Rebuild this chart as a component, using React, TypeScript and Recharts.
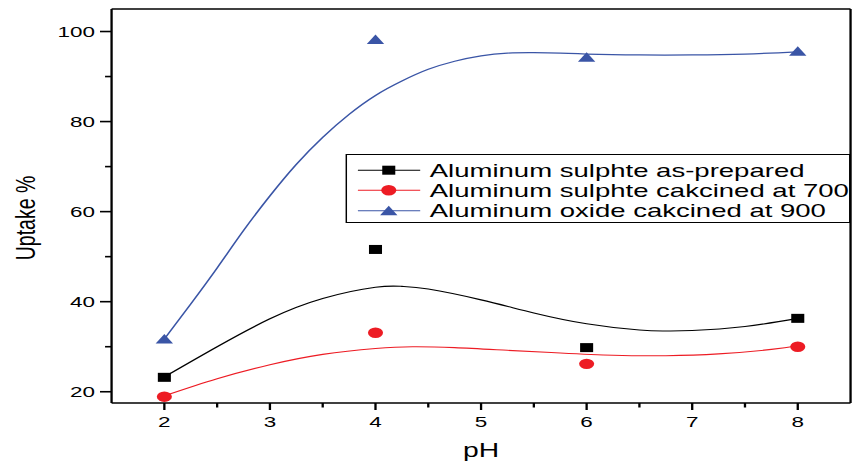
import React from 'react';
import { ComposedChart, Line, Scatter, XAxis, YAxis, Customized } from 'recharts';

// ---- measured points ----
const phPoints = [2, 4, 6, 8];
const asPrepared = [23.2, 51.6, 29.8, 36.3];
const calcined700 = [18.9, 33.1, 26.2, 30.0];
const oxide900 = [31.7, 98.2, 94.3, 95.6];

// ---- fitted smooth curves ----
const curveXBlack = [2, 2.5, 3, 3.5, 4, 4.25, 4.5, 5, 5.5, 6, 6.5, 6.75, 7, 7.5, 8];
const curveBlack = [23.3, 30.0, 36.2, 40.7, 43.2, 43.4, 42.8, 40.4, 37.5, 35.1, 33.7, 33.5, 33.6, 34.5, 36.3];
const curveXRed = [2, 2.5, 3, 3.5, 4, 4.35, 4.75, 5.25, 5.75, 6.25, 6.75, 7.25, 7.75, 8];
const curveRed = [19.1, 22.9, 26.0, 28.3, 29.6, 30.0, 29.8, 29.2, 28.6, 28.1, 28.0, 28.4, 29.4, 30.2];
const curveXBlue = [2, 2.25, 2.5, 2.75, 3, 3.25, 3.5, 3.75, 4, 4.25, 4.5, 4.75, 5, 5.25, 5.5, 5.75, 6, 6.5, 7, 7.5, 8];
const curveBlue = [31.7, 39.5, 47.5, 55.8, 63.5, 70.5, 76.5, 81.6, 85.8, 89.0, 91.6, 93.4, 94.6, 95.2, 95.3, 95.2, 95.0, 94.8, 94.8, 95.0, 95.5];

// ---- axes ----
const xTicks = [2, 2.5, 3, 3.5, 4, 4.5, 5, 5.5, 6, 6.5, 7, 7.5, 8];
const yTicks = [20, 30, 40, 50, 60, 70, 80, 90, 100];
const legendLabels = [
  'Aluminum sulphte as-prepared',
  'Aluminum sulphte cakcined at 700',
  'Aluminum oxide cakcined at 900',
];

const zip = (xs: number[], ys: number[]) => xs.map((x, i) => ({ x, y: ys[i] }));
const blackPts = zip(phPoints, asPrepared);
const redPts = zip(phPoints, calcined700);
const bluePts = zip(phPoints, oxide900);
const blackCurve = zip(curveXBlack, curveBlack);
const redCurve = zip(curveXRed, curveRed);
const blueCurve = zip(curveXBlue, curveBlue);

const FONT = '"Liberation Sans", Arial, Helvetica, sans-serif';
const BLACK = '#000000';
const RED = '#ed1c24';
const BLUE = '#3a55a6';
const SX = 852 / 588;

const Square = ({ cx, cy }: any) => <rect x={cx - 4.5} y={cy - 4.5} width={9} height={9} fill={BLACK} />;
const Dot = ({ cx, cy }: any) => <circle cx={cx} cy={cy} r={5.2} fill={RED} />;
const Tri = ({ cx, cy }: any) => (
  <polygon points={`${cx},${cy - 5} ${cx + 6},${cy + 4.5} ${cx - 6},${cy + 4.5}`} fill={BLUE} />
);

const LeftTick = ({ x, y, payload }: any) => {
  const major = payload.value % 20 === 0;
  return (
    <g>
      <line x1={x} x2={x - (major ? 8 : 4.5)} y1={y} y2={y} stroke="#000" strokeWidth={1.6} />
      {major && (
        <text x={x - 11.5} y={y} dy="0.36em" textAnchor="end" fontSize={15.5} fontFamily={FONT} fill="#000">
          {payload.value}
        </text>
      )}
    </g>
  );
};
const RightTick = ({ x, y, payload }: any) => {
  const major = payload.value % 20 === 0;
  return <line x1={x} x2={x + (major ? 8 : 4.5)} y1={y} y2={y} stroke="#000" strokeWidth={1.6} />;
};
const BottomTick = ({ x, y, payload }: any) => {
  const major = Number.isInteger(payload.value);
  return (
    <g>
      <line x1={x} x2={x} y1={y} y2={y + (major ? 7 : 4.5)} stroke="#000" strokeWidth={1.6} />
      {major && (
        <text x={x} y={y + 24} textAnchor="middle" fontSize={15.5} fontFamily={FONT} fill="#000">
          {payload.value}
        </text>
      )}
    </g>
  );
};
const TopTick = ({ x, y, payload }: any) => {
  const major = Number.isInteger(payload.value);
  return <line x1={x} x2={x} y1={y} y2={y - (major ? 3 : 2)} stroke="#000" strokeWidth={1.6} />;
};

const Decorations = () => {
  const bx = 239;
  const by = 154.5;
  const rows = [15.7, 35.7, 56.3];
  const colors = [BLACK, RED, BLUE];
  const markers = [Square, Dot, Tri];
  return (
    <g>
      <rect x={bx} y={by} width={347.5} height={68} fill="#fff" stroke="#000" strokeWidth={1} />
      {rows.map((ry, i) => {
        const M = markers[i];
        const cy = by + ry;
        return (
          <g key={i}>
            <line x1={247} x2={290} y1={cy} y2={cy} stroke={colors[i]} strokeWidth={1} />
            <M cx={268.3} cy={cy} />
            <text x={296.6} y={cy} dy="0.35em" fontSize={19} fontFamily={FONT} fill="#000">
              {legendLabels[i]}
            </text>
          </g>
        );
      })}
      <text
        x={24.5}
        y={218}
        transform="rotate(-90, 24.5, 218)"
        textAnchor="middle"
        fontSize={19.5}
        fontFamily={FONT}
        fill="#000"
      >
        Uptake %
      </text>
      <text x={332} y={457} textAnchor="middle" fontSize={19.5} fontFamily={FONT} fill="#000">
        pH
      </text>
    </g>
  );
};

export default function App() {
  return (
    <div
      style={{
        position: 'absolute',
        left: 0,
        top: 0,
        width: 588,
        height: 461,
        transform: `scaleX(${SX})`,
        transformOrigin: '0 0',
        background: '#fff',
      }}
    >
      <ComposedChart width={588} height={461} margin={{ top: 8, right: 0, bottom: 0, left: 0 }}>
        <XAxis
          dataKey="x"
          type="number"
          domain={[1.5, 8.5]}
          ticks={xTicks}
          interval={0}
          height={58}
          tickSize={0}
          tickMargin={0}
          tickLine={false}
          axisLine={{ stroke: '#000', strokeWidth: 1.6 }}
          tick={<BottomTick />}
        />
        <XAxis
          xAxisId="top"
          orientation="top"
          dataKey="x"
          type="number"
          domain={[1.5, 8.5]}
          ticks={xTicks}
          interval={0}
          height={1}
          tickSize={0}
          tickMargin={0}
          tickLine={false}
          axisLine={{ stroke: '#000', strokeWidth: 1.6 }}
          tick={<TopTick />}
        />
        <YAxis
          dataKey="y"
          type="number"
          domain={[17.5, 105]}
          ticks={yTicks}
          interval={0}
          width={77}
          tickSize={0}
          tickMargin={0}
          tickLine={false}
          axisLine={{ stroke: '#000', strokeWidth: 1.6 }}
          tick={<LeftTick />}
        />
        <YAxis
          yAxisId="r"
          orientation="right"
          dataKey="y"
          type="number"
          domain={[17.5, 105]}
          ticks={yTicks}
          interval={0}
          width={1}
          tickSize={0}
          tickMargin={0}
          tickLine={false}
          axisLine={{ stroke: '#000', strokeWidth: 1.6 }}
          tick={<RightTick />}
        />
        <Line data={blueCurve} dataKey="y" type="natural" stroke={BLUE} strokeWidth={1.2} dot={false} isAnimationActive={false} />
        <Line data={blackCurve} dataKey="y" type="natural" stroke={BLACK} strokeWidth={1.1} dot={false} isAnimationActive={false} />
        <Line data={redCurve} dataKey="y" type="natural" stroke={RED} strokeWidth={1.1} dot={false} isAnimationActive={false} />
        <Customized component={Decorations} />
        <Scatter data={blackPts} dataKey="y" shape={<Square />} isAnimationActive={false} />
        <Scatter data={redPts} dataKey="y" shape={<Dot />} isAnimationActive={false} />
        <Scatter data={bluePts} dataKey="y" shape={<Tri />} isAnimationActive={false} />
      </ComposedChart>
    </div>
  );
}
